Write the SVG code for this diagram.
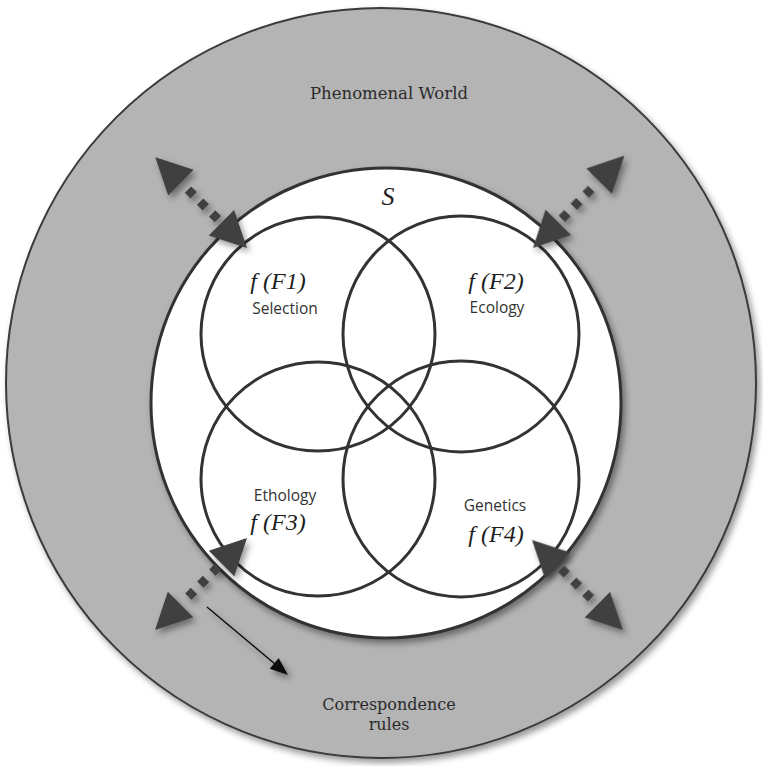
<svg xmlns="http://www.w3.org/2000/svg" width="763" height="766" viewBox="0 0 763 766">
<defs>
<style>
.serif{font-family:"DejaVu Serif","Liberation Serif",serif;fill:#2b2b2b}
.math{font-family:"Liberation Serif","DejaVu Serif",serif;font-style:italic;fill:#1e1e1e}
.lbl{font-family:"Open Sans","Noto Sans","Liberation Sans",sans-serif;fill:#333;font-size:15.5px}
.ring{fill:none;stroke:#333;stroke-width:3}
.head{fill:#3f3f3f}
.dot{fill:#3f3f3f}
</style>
<filter id="sh" x="-20%" y="-20%" width="140%" height="140%">
<feDropShadow dx="3" dy="4" stdDeviation="3" flood-color="#000" flood-opacity="0.4"/>
</filter>
</defs>
<rect width="763" height="766" fill="#fff"/>
<g id="phenomenal-world">
<circle cx="381" cy="383" r="375" fill="#b4b4b4" stroke="#3a3a3a" stroke-width="2" filter="url(#sh)"/>
<text class="serif" x="389" y="99" font-size="16.5" text-anchor="middle">Phenomenal World</text>
</g>
<g id="system-s">
<circle cx="386" cy="403" r="235" fill="#fff" stroke="#333" stroke-width="3" filter="url(#sh)"/>
<text class="math" x="388" y="205" font-size="26" text-anchor="middle">S</text>
</g>
<g id="f1">
<circle class="ring" cx="318" cy="334" r="117"/>
<text class="math" x="278" y="289" font-size="24" text-anchor="middle">f (F1)</text>
<text class="lbl" x="285" y="314" text-anchor="middle">Selection</text>
</g>
<g id="f2">
<circle class="ring" cx="461" cy="334" r="118"/>
<text class="math" x="496" y="289" font-size="24" text-anchor="middle">f (F2)</text>
<text class="lbl" x="497" y="313" text-anchor="middle">Ecology</text>
</g>
<g id="f3">
<circle class="ring" cx="318" cy="479" r="117"/>
<text class="lbl" x="285" y="501" text-anchor="middle">Ethology</text>
<text class="math" x="278" y="530" font-size="24" text-anchor="middle">f (F3)</text>
</g>
<g id="f4">
<circle class="ring" cx="461" cy="479" r="118"/>
<text class="lbl" x="495" y="511" text-anchor="middle">Genetics</text>
<text class="math" x="496" y="542" font-size="24" text-anchor="middle">f (F4)</text>
</g>
<g id="correspondence-rules">
<text class="serif" x="389" y="710" font-size="16" text-anchor="middle">Correspondence</text>
<text class="serif" x="389" y="730" font-size="16" text-anchor="middle">rules</text>
</g>
<g id="connectors" filter="url(#sh)">
<g transform="translate(247,248) rotate(-135.3)">
<polygon class="head" points="0,0 36,-18 36,18"/>
<rect class="dot" x="41" y="-4.5" width="8" height="9"/>
<rect class="dot" x="58" y="-4.5" width="8" height="9"/>
<rect class="dot" x="75" y="-4.5" width="8" height="9"/>
<polygon class="head" points="129,0 93,-18 93,18"/>
</g>
<g transform="translate(533,248) rotate(-45.3)">
<polygon class="head" points="0,0 36,-18 36,18"/>
<rect class="dot" x="41" y="-4.5" width="8" height="9"/>
<rect class="dot" x="58" y="-4.5" width="8" height="9"/>
<rect class="dot" x="75" y="-4.5" width="8" height="9"/>
<polygon class="head" points="130,0 94,-18 94,18"/>
</g>
<g transform="translate(247,538) rotate(135)">
<polygon class="head" points="0,0 36,-18 36,18"/>
<rect class="dot" x="41" y="-4.5" width="8" height="9"/>
<rect class="dot" x="58" y="-4.5" width="8" height="9"/>
<rect class="dot" x="75" y="-4.5" width="8" height="9"/>
<polygon class="head" points="130,0 94,-18 94,18"/>
</g>
<g transform="translate(532,540) rotate(44.7)">
<polygon class="head" points="0,0 36,-18 36,18"/>
<rect class="dot" x="41" y="-4.5" width="8" height="9"/>
<rect class="dot" x="58" y="-4.5" width="8" height="9"/>
<rect class="dot" x="75" y="-4.5" width="8" height="9"/>
<polygon class="head" points="128,0 92,-18 92,18"/>
</g>
<line x1="207" y1="607" x2="275" y2="664" stroke="#111" stroke-width="1.5"/>
<polygon points="288,675 269.7,668.8 278.7,658" fill="#111"/>
</g>
</svg>
